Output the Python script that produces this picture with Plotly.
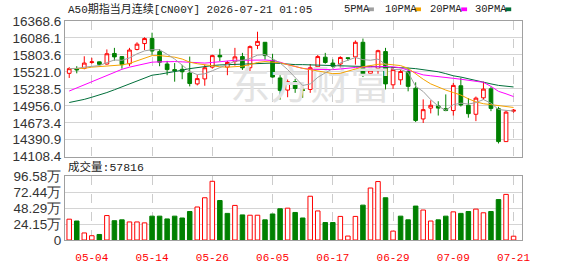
import plotly.graph_objects as go

# ---------------- data ----------------
dates = ["04-29", "04-30", "05-01", "05-04", "05-05", "05-06", "05-07", "05-08", "05-11", "05-12",
         "05-13", "05-14", "05-15", "05-18", "05-19", "05-20", "05-21", "05-22", "05-25", "05-26",
         "05-27", "05-28", "05-29", "06-01", "06-02", "06-03", "06-04", "06-05", "06-08", "06-09",
         "06-10", "06-11", "06-12", "06-15", "06-16", "06-17", "06-18", "06-19", "06-22", "06-23",
         "06-24", "06-25", "06-26", "06-29", "06-30", "07-01", "07-02", "07-03", "07-06", "07-07",
         "07-08", "07-09", "07-10", "07-13", "07-14", "07-15", "07-16", "07-17", "07-20", "07-21"]

opens = [15497, 15575, 15580, 15678, 15688, 15652, 15828, 15776, 15657, 15895,
         15993, 16076, 15859, 15652, 15559, 15564, 15502, 15321, 15404, 15600,
         15797, 15600, 15693, 15776, 15590, 15962, 16014, 15714, 15420, 15218,
         15358, 15223, 15228, 15606, 15766, 15668, 15652, 15756, 15771, 16014,
         15497, 15575, 15859, 15306, 15389, 15528, 15249, 14737, 14918, 14954,
         14908, 14877, 15290, 14965, 14815, 15089, 15239, 14908, 14360, 14867]
highs = [15600, 15616, 15781, 15755, 15693, 15895, 15921, 15786, 15921, 16014,
         16097, 16174, 15900, 15704, 15668, 15637, 15776, 15471, 15642, 15807,
         15905, 15704, 15921, 15838, 15962, 16190, 16014, 15823, 15466, 15394,
         15404, 15275, 15652, 15802, 15838, 15730, 15781, 15766, 16045, 16076,
         15600, 15890, 15921, 15590, 15559, 15590, 15347, 15063, 15047, 15032,
         15146, 15337, 15425, 15084, 15110, 15358, 15275, 14939, 14877, 14903]
lows = [15420, 15497, 15564, 15657, 15631, 15642, 15709, 15575, 15616, 15880,
        15885, 15807, 15616, 15466, 15358, 15399, 15280, 15296, 15290, 15575,
        15699, 15466, 15626, 15554, 15507, 15900, 15724, 15425, 15058, 15099,
        15172, 15089, 15172, 15564, 15657, 15590, 15590, 15704, 15642, 15435,
        15461, 15476, 15228, 15239, 15306, 15197, 14686, 14670, 14830, 14794,
        14867, 14794, 14944, 14758, 14701, 15058, 14867, 14329, 14360, 14841]
closes = [15575, 15554, 15668, 15688, 15647, 15823, 15771, 15642, 15885, 15983,
          16076, 15869, 15683, 15559, 15538, 15523, 15327, 15409, 15590, 15792,
          15771, 15678, 15771, 15590, 15942, 16029, 15792, 15435, 15213, 15358,
          15244, 15213, 15590, 15776, 15678, 15616, 15761, 15745, 16014, 15487,
          15549, 15874, 15321, 15559, 15528, 15280, 14712, 14892, 14965, 14918,
          14877, 15296, 14970, 14825, 15084, 15234, 14913, 14360, 14851, 14882]

ma5 = [15575, 15580, 15600, 15615, 15626, 15676, 15719, 15714, 15754, 15821,
       15871, 15891, 15890, 15815, 15735, 15634, 15526, 15476, 15490, 15540,
       15590, 15640, 15697, 15710, 15745, 15800, 15810, 15740, 15670, 15560,
       15420, 15295, 15320, 15430, 15505, 15575, 15670, 15715, 15760, 15725,
       15715, 15734, 15649, 15560, 15560, 15512, 15280, 15194, 15060, 14950,
       14880, 14975, 15000, 14985, 15010, 15060, 15000, 14895, 14880, 14870]
ma10 = [15575, 15575, 15580, 15600, 15611, 15626, 15631, 15637, 15662, 15704,
        15756, 15792, 15792, 15781, 15766, 15735, 15683, 15657, 15637, 15616,
        15606, 15600, 15606, 15616, 15642, 15678, 15693, 15688, 15673, 15642,
        15606, 15580, 15559, 15538, 15518, 15492, 15497, 15528, 15569, 15606,
        15631, 15647, 15652, 15642, 15626, 15580, 15487, 15399, 15321, 15265,
        15218, 15177, 15135, 15073, 15022, 14991, 14975, 14949, 14934, 14929]
ma20 = [15202, 15254, 15311, 15368, 15414, 15461, 15513, 15564, 15600, 15631,
        15662, 15683, 15688, 15693, 15693, 15688, 15678, 15673, 15668, 15678,
        15693, 15704, 15714, 15714, 15719, 15724, 15719, 15709, 15683, 15642,
        15606, 15580, 15564, 15559, 15559, 15559, 15569, 15585, 15595, 15600,
        15606, 15611, 15611, 15606, 15590, 15549, 15513, 15471, 15456, 15445,
        15430, 15414, 15399, 15383, 15368, 15347, 15280, 15197, 15156, 15110]
ma30 = [15011, 15032, 15063, 15099, 15135, 15177, 15223, 15270, 15321, 15368,
        15420, 15466, 15482, 15502, 15528, 15549, 15575, 15595, 15611, 15626,
        15637, 15642, 15647, 15652, 15662, 15668, 15673, 15668, 15662, 15647,
        15642, 15642, 15637, 15637, 15637, 15631, 15626, 15621, 15616, 15611,
        15611, 15606, 15606, 15600, 15600, 15585, 15575, 15559, 15544, 15523,
        15492, 15456, 15435, 15404, 15378, 15347, 15321, 15296, 15280, 15270]

volumes = [316000, 288000, 107000, 65000, 84000, 371000, 293000, 306000, 274000, 274000,
           260000, 362000, 362000, 320000, 362000, 334000, 432000, 501000, 641000, 891000,
           599000, 404000, 525000, 381000, 376000, 376000, 306000, 395000, 474000, 483000,
           418000, 334000, 664000, 441000, 265000, 265000, 358000, 60000, 358000, 529000,
           789000, 887000, 641000, 135000, 362000, 306000, 515000, 455000, 288000, 306000,
           362000, 427000, 404000, 432000, 469000, 413000, 432000, 613000, 692000, 57816]
vol_up = [1, 0, 1, 1, 0, 1, 0, 0, 1, 1,
          1, 0, 0, 0, 0, 0, 0, 1, 1, 1,
          0, 0, 1, 0, 1, 1, 0, 0, 0, 1,
          0, 0, 1, 1, 0, 0, 1, 1, 1, 0,
          1, 1, 0, 1, 0, 0, 0, 1, 1, 0,
          0, 1, 0, 0, 1, 1, 0, 0, 1, 1]

tick_dates = ["05-04", "05-14", "05-26", "06-05", "06-17", "06-29", "07-09", "07-21"]
price_ticks = [14108.4, 14390.9, 14673.4, 14956.0, 15238.5, 15521.0, 15803.6, 16086.1, 16368.6]
vol_ticks = [0, 241500, 482900, 724400, 965800]
vol_tick_text = ["0", "24.15万", "48.29万", "72.44万", "96.58万"]

title_text = "A50期指当月连续[CN00Y] 2026-07-21 01:05"
ma_names = ["5PMA", "10PMA", "20PMA", "30PMA"]
ma_colors = ["#a0a0a0", "#f5a300", "#ff00ff", "#006f3a"]

# ---------------- layout helpers ----------------
W, H = 578, 276
ML, MR, MT, MB = 56, 56, 21, 21
PW = W - ML - MR
PH = H - MT - MB


def pxx(x):
    return (x - ML) / PW


def pyy(y):
    return (H - MB - y) / PH


RED = "#ff0000"
GREEN = "#008000"
MONO = "Liberation Mono, Noto Sans CJK SC, monospace"
SANS = "Liberation Sans, Arial, sans-serif"

fig = go.Figure()

# watermark (behind everything)
fig.add_trace(go.Scatter(
    x=[dates[32]], y=[15240], mode="text", text=["东方财富"],
    textfont=dict(size=40, color="#e3e3e3", family="Noto Sans CJK SC"),
    xaxis="x", yaxis="y", hoverinfo="skip", showlegend=False))

fig.add_trace(go.Candlestick(
    x=dates, open=opens, high=highs, low=lows, close=closes,
    increasing=dict(line=dict(color=RED, width=1), fillcolor="#ffffff"),
    decreasing=dict(line=dict(color=GREEN, width=1), fillcolor=GREEN),
    whiskerwidth=0, xaxis="x", yaxis="y", hoverinfo="skip", showlegend=False))

for vals, col in zip([ma30, ma20, ma10, ma5], ma_colors[::-1]):
    fig.add_trace(go.Scatter(
        x=dates, y=vals, mode="lines", line=dict(color=col, width=1),
        xaxis="x", yaxis="y", hoverinfo="skip", showlegend=False))

fig.add_trace(go.Bar(
    x=dates, y=volumes, width=0.6,
    marker=dict(color=["#ffffff" if u else GREEN for u in vol_up],
                line=dict(color=[RED if u else GREEN for u in vol_up], width=1)),
    xaxis="x2", yaxis="y2", hoverinfo="skip", showlegend=False))

xr = [-0.56, 60.12]
common_x = dict(type="category", categoryorder="array", categoryarray=dates,
                range=xr, tickmode="array", tickvals=tick_dates, ticktext=tick_dates,
                showgrid=True, gridcolor="#cccccc", griddash="dash", gridwidth=1,
                showline=True, linecolor="#a0a0a0", linewidth=1, mirror=True,
                zeroline=False, fixedrange=True)
common_y = dict(showgrid=True, gridcolor="#d4d4d4", gridwidth=1,
                showline=True, linecolor="#a0a0a0", linewidth=1, mirror=True,
                zeroline=False, ticks="", tickmode="array", fixedrange=True,
                tickfont=dict(family=SANS, size=13.5, color="#333333"))

fig.update_layout(
    width=W, height=H,
    margin=dict(l=ML, r=MR, t=MT, b=MB, pad=0),
    paper_bgcolor="#ffffff", plot_bgcolor="#ffffff",
    showlegend=False, boxgap=0.3,
    xaxis=dict(common_x, domain=[0, 1], anchor="y", showticklabels=False, ticks="",
               rangeslider=dict(visible=False)),
    yaxis=dict(common_y, domain=[pyy(166), 1], anchor="x",
               range=[price_ticks[0] - 0.01, price_ticks[-1] + 0.01],
               tickvals=price_ticks, ticktext=[f"{v:.1f}" for v in price_ticks]),
    xaxis2=dict(common_x, domain=[0, 1], anchor="y2", showticklabels=True,
                ticks="outside", ticklen=7, tickcolor="rgba(0,0,0,0)",
                tickfont=dict(family=MONO, size=11, color=RED)),
    yaxis2=dict(common_y, domain=[0, pyy(187)], anchor="x2",
                range=[0, vol_ticks[-1] + 1],
                tickvals=vol_ticks, ticktext=vol_tick_text),
)

annotations = [
    dict(text=title_text, x=pxx(57), y=pyy(8), xanchor="left", yanchor="middle",
         font=dict(family=MONO, size=11, color="#222222")),
    dict(text="成交量:57816", x=pxx(57), y=pyy(177.5), xanchor="left", yanchor="middle",
         font=dict(family=MONO, size=11.5, color="#222222")),
]
leg_text_x = [338, 380, 426, 472]
leg_box_x = [365, 413, 460, 505]
shapes = []
for name, col, tx, bx in zip(ma_names, ma_colors, leg_text_x, leg_box_x):
    annotations.append(dict(text=name, x=pxx(tx), y=pyy(8), xanchor="left", yanchor="middle",
                            font=dict(family=MONO, size=10.5, color="#222222")))
    shapes.append(dict(type="rect", xref="paper", yref="paper",
                       x0=pxx(bx), x1=pxx(bx + 6), y0=pyy(10.5), y1=pyy(6.5),
                       fillcolor=col, line=dict(width=0)))
for a in annotations:
    a.update(xref="paper", yref="paper", showarrow=False)
fig.update_layout(annotations=annotations, shapes=shapes)

fig.write_html("out.html", config={"displayModeBar": False, "staticPlot": True})
